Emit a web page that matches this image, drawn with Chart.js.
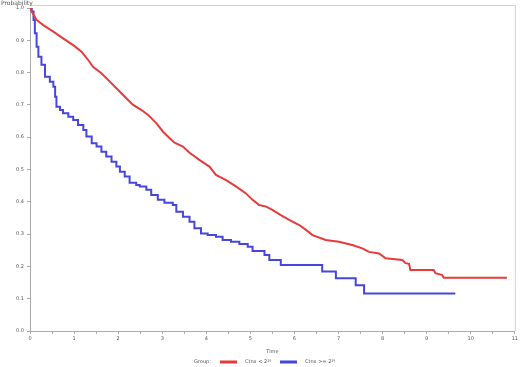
<!DOCTYPE html>
<html lang="en">
  <head>
    <meta charset="UTF-8" />
    <title>Survival</title>
    <script src="https://cdn.jsdelivr.net/npm/chart.js"></script>
    <style>
      html, body { margin: 0; padding: 0; background: #fff; }
      #wrap { width: 520px; height: 367px; }
    </style>
  </head>
  <body>
    <div id="wrap"><canvas id="myCanvas"></canvas></div>
  </body>
</html>
<script>
  // group labels
  const grupos = ["Ctnx < 2\u00B9\u2078", "Ctnx >= 2\u00B9\u2078"];

  // red group: time and survival
  const tempoA = [0, 0.04, 0.15, 0.30, 0.53, 0.75, 0.98, 1.17, 1.32, 1.43, 1.62, 1.81, 2.0, 2.19, 2.34, 2.53, 2.68, 2.87,
    3.02, 3.17, 3.28, 3.47, 3.62, 3.85, 4.07, 4.22, 4.45, 4.68, 4.90, 5.05, 5.20, 5.36, 5.50, 5.69, 5.88, 6.11, 6.26,
    6.41, 6.71, 7.01, 7.31, 7.54, 7.69, 7.92, 8.07, 8.45, 8.52, 8.60, 8.63, 9.16, 9.20, 9.35, 9.39, 10.82];
  const survA = [1.0, 0.989, 0.963, 0.947, 0.927, 0.906, 0.885, 0.865, 0.839, 0.818, 0.798, 0.772, 0.746, 0.720, 0.700,
    0.684, 0.669, 0.643, 0.617, 0.597, 0.583, 0.571, 0.552, 0.529, 0.509, 0.483, 0.467, 0.447, 0.426, 0.406, 0.390,
    0.385, 0.375, 0.359, 0.344, 0.328, 0.313, 0.297, 0.282, 0.276, 0.266, 0.256, 0.245, 0.240, 0.225, 0.220, 0.210,
    0.208, 0.189, 0.189, 0.179, 0.173, 0.165, 0.165];

  // blue group: event times and survival after each step
  const tempoB = [0, 0.04, 0.08, 0.11, 0.15, 0.19, 0.26, 0.34, 0.45, 0.53, 0.57, 0.60, 0.68, 0.75, 0.87, 0.98, 1.09,
    1.21, 1.28, 1.40, 1.51, 1.62, 1.73, 1.85, 1.96, 2.04, 2.15, 2.26, 2.41, 2.49, 2.64, 2.75, 2.90, 3.05, 3.24, 3.32,
    3.47, 3.62, 3.73, 3.88, 4.03, 4.22, 4.37, 4.56, 4.75, 4.94, 5.05, 5.32, 5.43, 5.69, 6.63, 6.94, 7.39, 7.58, 9.65];
  const survB = [1.0, 0.989, 0.963, 0.922, 0.880, 0.849, 0.824, 0.787, 0.772, 0.756, 0.725, 0.694, 0.684, 0.674, 0.663,
    0.653, 0.638, 0.622, 0.602, 0.581, 0.571, 0.555, 0.540, 0.524, 0.509, 0.493, 0.478, 0.459, 0.452, 0.447, 0.437,
    0.421, 0.406, 0.397, 0.390, 0.369, 0.354, 0.338, 0.318, 0.302, 0.297, 0.292, 0.282, 0.276, 0.269, 0.261, 0.248,
    0.235, 0.220, 0.204, 0.184, 0.163, 0.142, 0.116, 0.116];

  const corA = "#e63b3b";
  const corB = "#4646dc";

  function pontos(t, s) {
    let lista = [];
    for (let i = 0; i < t.length; i++) {
      lista.push({ x: t[i], y: s[i] });
    }
    return lista;
  }

  // frame, y title and the legend row
  const extras = {
    id: "extras",
    afterDraw(chart) {
      const ctx = chart.ctx;
      const a = chart.chartArea;
      ctx.save();
      ctx.strokeStyle = "#d0d0d0";
      ctx.lineWidth = 1;
      ctx.beginPath();
      ctx.moveTo(a.left, a.top - 2.5);
      ctx.lineTo(a.right + 0.5, a.top - 2.5);
      ctx.lineTo(a.right + 0.5, a.bottom);
      ctx.stroke();

      ctx.fillStyle = "#555";
      ctx.font = "6px 'DejaVu Sans'";
      ctx.textBaseline = "top";
      ctx.textAlign = "left";
      ctx.fillText("Probability", 1, 0);

      // legend
      const yLeg = 362;
      ctx.font = "5px 'DejaVu Sans'";
      ctx.textBaseline = "middle";
      ctx.fillText("Group:", 194, yLeg);
      let x = 220;
      chart.data.datasets.forEach((ds) => {
        ctx.fillStyle = ds.borderColor;
        ctx.fillRect(x, yLeg - 1.5, 17, 3);
        ctx.fillStyle = "#555";
        ctx.fillText(ds.label, x + 25, yLeg);
        x += 60;
      });
      ctx.restore();
    },
  };

  const config = {
    type: "line",
    data: {
      datasets: [
        {
          label: grupos[0],
          data: pontos(tempoA, survA),
          borderColor: corA,
          backgroundColor: corA,
          borderWidth: 2,
          stepped: false,
          tension: 0,
          pointRadius: 0,
          fill: false,
        },
        {
          label: grupos[1],
          data: pontos(tempoB, survB),
          borderColor: corB,
          backgroundColor: corB,
          borderWidth: 2,
          stepped: true,
          pointRadius: 0,
          fill: false,
        },
      ],
    },
    options: {
      responsive: true,
      maintainAspectRatio: false,
      animation: false,
      layout: { padding: { top: 8, right: 3, left: 0, bottom: 12 } },
      scales: {
        x: {
          type: "linear",
          min: 0,
          max: 11,
          afterFit: (scale) => {
            scale.height = 24;
          },
          ticks: {
            stepSize: 0.5,
            color: "#555",
            font: { size: 5, family: "DejaVu Sans" },
            padding: 2,
            maxRotation: 0,
            autoSkip: false,
            callback: (v) => (Number.isInteger(v) ? String(v) : ""),
          },
          grid: { drawOnChartArea: false, drawTicks: true, tickLength: 3, color: "#aaa" },
          border: { color: "#aaa" },
          title: {
            display: true,
            text: "Time",
            color: "#555",
            font: { size: 5, family: "DejaVu Sans" },
            padding: { top: 4, bottom: 0 },
          },
        },
        y: {
          min: 0,
          max: 1,
          afterFit: (scale) => {
            scale.width = 30;
          },
          ticks: {
            stepSize: 0.1,
            color: "#555",
            font: { size: 5, family: "DejaVu Sans" },
            padding: 3,
            callback: (v) => v.toFixed(1),
          },
          grid: { drawOnChartArea: false, drawTicks: true, tickLength: 3, color: "#aaa" },
          border: { color: "#aaa" },
        },
      },
      plugins: {
        legend: { display: false },
        tooltip: { enabled: false },
      },
    },
    plugins: [extras],
  };

  new Chart(document.getElementById("myCanvas"), config);
</script>
